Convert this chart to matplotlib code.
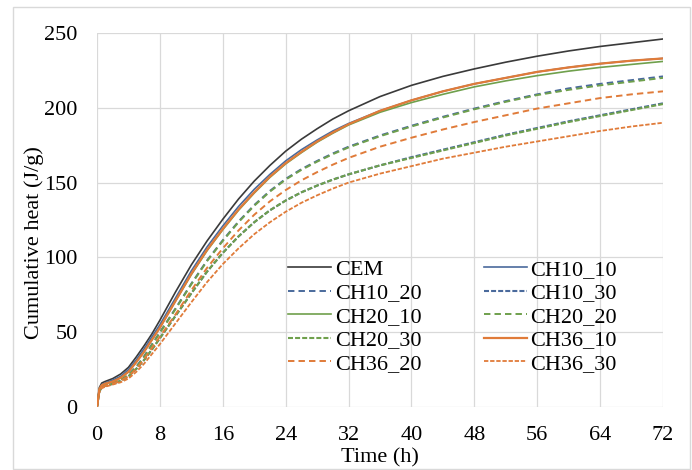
import matplotlib
matplotlib.use("Agg")
import matplotlib.pyplot as plt
from matplotlib.patches import Rectangle

plt.rcParams['font.family'] = ['Liberation Serif', 'DejaVu Serif']

# temps (h)
time_h = [0, 0.3, 0.6, 1, 2, 3, 4, 5, 6, 7, 8, 10, 12, 14, 16, 18, 20, 22, 24, 26,
          28, 30, 32, 36, 40, 44, 48, 52, 56, 60, 64, 68, 72]

# chaleur cumulee (J/g)
cem = [0, 13, 16, 17, 19, 22, 26.5, 33.5, 41, 49, 58, 77, 95, 111, 125.5, 139, 151, 161.5, 171, 179,
       186, 192.5, 198, 207.5, 215, 221, 226, 230.5, 234.5, 238, 241, 243.5, 246]
ch10_10 = [0, 12, 15, 16, 18, 20.5, 25, 31.5, 39, 47, 55, 73, 91, 107, 121, 134, 145.5, 155.5, 164.5, 172,
           178.5, 184.5, 189.5, 198, 205, 211, 216, 220, 224, 227, 229.5, 231.5, 233]
ch10_20 = [0, 11, 13.5, 14.5, 16, 18, 21.5, 27, 34, 42, 50, 66, 82.5, 98, 111.5, 124, 135, 144.5, 152.5, 159,
           164.5, 169.5, 174, 181.5, 188, 194, 199.5, 204.5, 209, 213, 216, 218.5, 221]
ch10_30 = [0, 10.5, 13, 14, 15.5, 17.5, 20.5, 25.5, 31.5, 38.5, 46, 61, 76, 90.5, 103, 114, 123.5, 131.5, 138, 143.5,
           148, 152, 155.5, 161.5, 167, 172, 177, 182, 186.5, 191, 195, 199, 203]
ch20_10 = [0, 12, 14.5, 15.5, 17, 19.5, 23.5, 30, 37, 45, 53, 71, 88.5, 104.5, 118.5, 131.5, 143, 153.5, 162.5, 170,
           177, 183, 188.5, 197, 203.5, 209, 214, 218, 221.5, 224.5, 227, 229, 231]
ch20_20 = [0, 11, 13.5, 14.5, 16, 18, 21.5, 26.5, 33.5, 41.5, 49.5, 65.5, 82, 97.5, 111, 123.5, 134.5, 144, 152, 158.5,
           164, 169, 173.5, 181, 187.5, 193.5, 199, 204, 208.5, 212, 215, 217.5, 220]
ch20_30 = [0, 10.5, 13, 14, 15.5, 17.5, 20.5, 25.5, 31.5, 38.5, 46, 61, 76, 90.5, 103, 114, 123.5, 131.5, 138, 143.5,
           148, 152, 155.5, 161.5, 166.5, 171.5, 176.5, 181.5, 186, 190.5, 194.5, 198.5, 202.5]
ch36_10 = [0, 12, 14.5, 15.5, 17, 19.5, 23.5, 30, 37, 45, 53, 71, 89, 105, 119, 132, 143.5, 154, 163, 170.5,
           177.5, 183.5, 189, 198, 205, 211, 216, 220, 224, 227, 229.5, 231.5, 233]
ch36_20 = [0, 10.5, 13, 14, 15.5, 17.5, 20.5, 25.5, 32, 39.5, 47, 62, 78, 93, 106, 118, 128.5, 137.5, 145, 151.5,
           157, 162, 166.5, 174, 180, 185.5, 190.5, 195, 199.5, 203, 206.5, 209, 211]
ch36_30 = [0, 10, 12.5, 13.5, 15, 16.5, 19, 23.5, 29, 35.5, 42, 56, 70, 83.5, 95.5, 106, 115.5, 123.5, 130.5, 136.5,
           141.5, 146, 150, 156, 161, 166, 170, 174, 177.5, 181, 184.5, 187.5, 190]

noir = '#3a3a3a'
bleu = '#4a6a9c'
vert = '#6fa04c'
orange = '#e07b39'

long_dash = (0, (3.3, 2.1))
short_dash = (0, (2.4, 1.0))

series = [
    ('CEM', cem, noir, '-', 1.2),
    ('CH10_10', ch10_10, bleu, '-', 1.2),
    ('CH10_20', ch10_20, bleu, long_dash, 1.4),
    ('CH10_30', ch10_30, bleu, short_dash, 1.5),
    ('CH20_10', ch20_10, vert, '-', 1.2),
    ('CH20_20', ch20_20, vert, long_dash, 1.4),
    ('CH20_30', ch20_30, vert, short_dash, 1.5),
    ('CH36_10', ch36_10, orange, '-', 1.6),
    ('CH36_20', ch36_20, orange, long_dash, 1.4),
    ('CH36_30', ch36_30, orange, short_dash, 1.3),
]

fig = plt.figure(figsize=(6.92, 4.70), dpi=100)
ax = fig.add_axes([97 / 692, 1 - 407 / 470, 566 / 692, 374 / 470])

lignes = {}
for nom, valeurs, couleur, style, lw in series:
    lignes[nom], = ax.plot(time_h, valeurs, color=couleur, linestyle=style, linewidth=lw, label=nom)

ax.set_xlim(0, 72)
ax.set_ylim(0, 250)
ax.set_xticks(range(0, 73, 8))
ax.set_yticks(range(0, 251, 50))
ax.grid(True, color='#d9d9d9', linewidth=0.9)
ax.set_axisbelow(True)
for s in ax.spines.values():
    s.set_visible(False)
ax.tick_params(length=0, labelsize=16)
ax.tick_params(axis='y', pad=14)
ax.tick_params(axis='x', pad=14)
ax.set_xlabel('Time (h)', fontsize=16, labelpad=2)
ax.set_ylabel('Cumulative heat (J/g)', fontsize=16)
ax.yaxis.set_label_coords(-0.093, 0.441)

# legende en 2 colonnes, remplie colonne par colonne
ordre_lignes = [s[0] for s in series]
noms = ordre_lignes[0::2] + ordre_lignes[1::2]
leg = ax.legend([lignes[n] for n in noms], noms, ncol=2, frameon=False, fontsize=16,
                loc='lower left', bbox_to_anchor=(0.318, 0.059), handlelength=1.95,
                handletextpad=0.15, columnspacing=2.8, labelspacing=0.13, borderpad=0)

fig.patches.append(Rectangle((13 / 692, 1 / 470), 677 / 692, 462 / 470, transform=fig.transFigure,
                             fill=False, edgecolor='#d9d9d9', linewidth=1))

fig.savefig('out.png', dpi=100)
